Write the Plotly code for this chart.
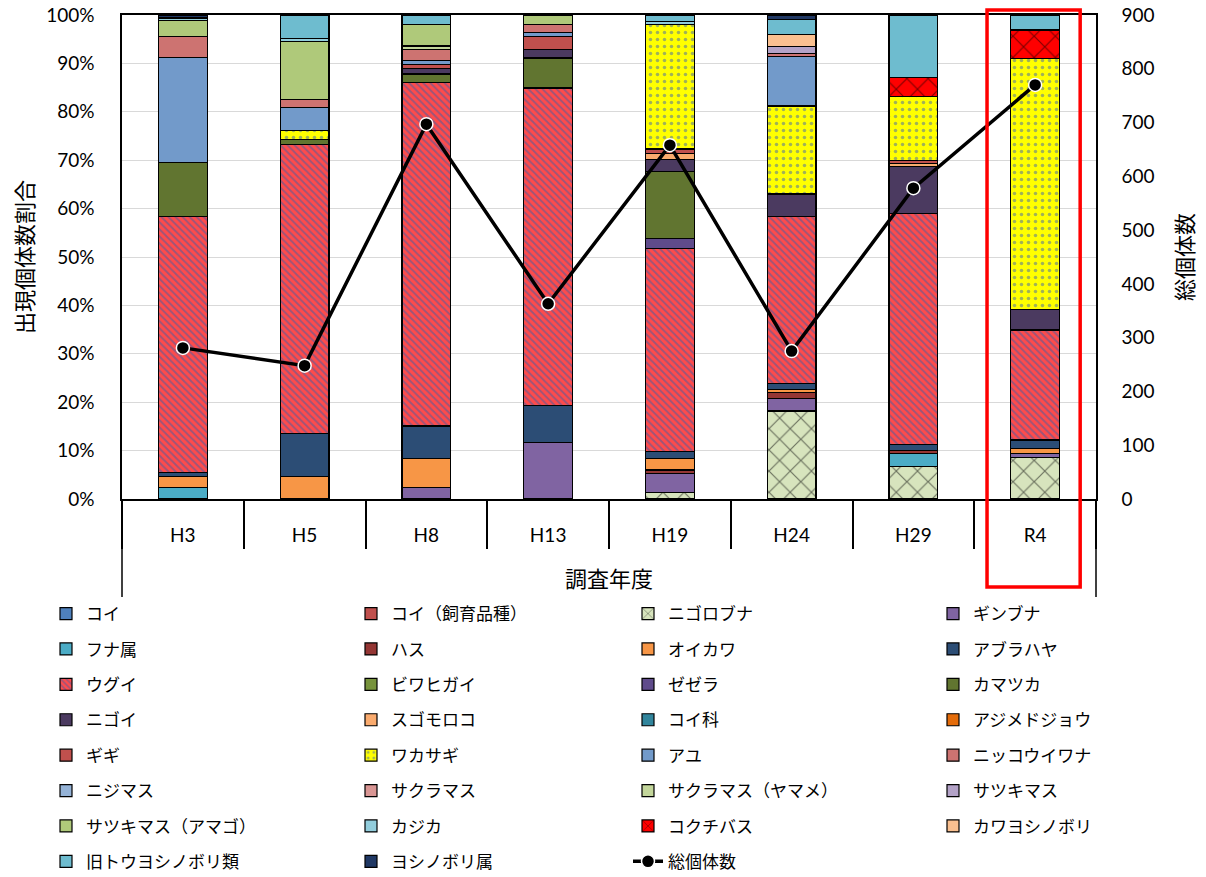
import plotly.graph_objects as go

years = ["H3", "H5", "H8", "H13", "H19", "H24", "H29", "R4"]

species = [
    "コイ", "コイ（飼育品種）", "ニゴロブナ", "ギンブナ",
    "フナ属", "ハス", "オイカワ", "アブラハヤ",
    "ウグイ", "ビワヒガイ", "ゼゼラ", "カマツカ",
    "ニゴイ", "スゴモロコ", "コイ科", "アジメドジョウ",
    "ギギ", "ワカサギ", "アユ", "ニッコウイワナ",
    "ニジマス", "サクラマス", "サクラマス（ヤマメ）", "サツキマス",
    "サツキマス（アマゴ）", "カジカ", "コクチバス", "カワヨシノボリ",
    "旧トウヨシノボリ類", "ヨシノボリ属",
]

# share of individuals (%) per survey year
koi = [0, 0, 0, 0, 0, 0, 0, 0]
koi_shiiku = [0, 0, 0, 0, 0, 0, 0, 0]
nigorobuna = [0, 0, 0, 0, 1.3, 18.2, 6.7, 8.6]
ginbuna = [0, 0, 2.4, 11.6, 3.9, 2.6, 0, 0.8]
funa_zoku = [2.3, 0, 0, 0, 0, 0, 2.7, 0]
hasu = [0, 0, 0, 0, 0.8, 1.2, 0.7, 0]
oikawa = [2.4, 4.6, 6.0, 0, 2.4, 0.7, 0, 1.0]
aburahaya = [0.7, 9.0, 6.7, 7.8, 1.4, 1.2, 1.1, 1.8]
ugui = [53.0, 59.7, 70.9, 65.5, 42.0, 34.4, 47.8, 22.7]
biwahigai = [0, 0, 0, 0, 0, 0, 0, 0]
zezera = [0, 0, 0, 0, 2.1, 0, 0, 0]
kamatsuka = [11.1, 1.0, 1.8, 6.2, 13.7, 0, 0, 0]
nigoi = [0, 0, 1.1, 1.8, 2.6, 4.7, 9.7, 4.3]
sugomoroko = [0, 0, 0, 0, 1.2, 0, 0.6, 0]
koi_ka = [0, 0, 0, 0, 0, 0, 0, 0]
ajimedojou = [0, 0, 0, 0, 0, 0, 0, 0]
gigi = [0, 0, 0.8, 2.6, 0.9, 0, 0.7, 0]
wakasagi = [0, 1.8, 0, 0, 25.8, 18.2, 13.1, 51.8]
ayu = [21.7, 4.8, 0.9, 0.9, 0, 10.2, 0, 0]
nikkouiwana = [4.3, 1.7, 2.2, 1.7, 0, 0.6, 0, 0]
nijimasu = [0, 0, 0, 0, 0, 0, 0, 0]
sakuramasu = [0, 0, 0, 0, 0, 0, 0, 0]
yamame = [0, 0, 0.8, 0, 0, 0, 0, 0]
satsukimasu = [0, 0, 0, 0, 0, 1.5, 0, 0]
amago = [3.3, 11.9, 4.5, 1.9, 0, 0, 0, 0]
kajika = [0.6, 0.6, 0, 0, 0.5, 0, 0, 0]
kokuchibasu = [0, 0, 0, 0, 0, 0, 4.0, 5.9]
kawayoshinobori = [0, 0, 0, 0, 0, 2.4, 0, 0]
kyu_touyoshinobori = [0, 4.9, 1.9, 0, 1.4, 3.2, 12.9, 3.1]
yoshinobori_zoku = [0.6, 0, 0, 0, 0, 0.9, 0, 0]

# total individuals
total_count = [281, 248, 697, 363, 658, 275, 578, 770]

series_values = [
    koi, koi_shiiku, nigorobuna, ginbuna,
    funa_zoku, hasu, oikawa, aburahaya,
    ugui, biwahigai, zezera, kamatsuka,
    nigoi, sugomoroko, koi_ka, ajimedojou,
    gigi, wakasagi, ayu, nikkouiwana,
    nijimasu, sakuramasu, yamame, satsukimasu,
    amago, kajika, kokuchibasu, kawayoshinobori,
    kyu_touyoshinobori, yoshinobori_zoku,
]

colors = [
    "#4F81BD", "#C0504D", "#D7E4BD", "#8064A2",
    "#4BACC6", "#943634", "#F79646", "#2C4D75",
    "#FF4B4B", "#77933C", "#5F4B8B", "#617530",
    "#4B3A60", "#FAAB6E", "#31859C", "#E46C0A",
    "#C0504D", "#FFFF00", "#729ACA", "#CD7371",
    "#95B3D7", "#D99694", "#C3D69B", "#B3A2C7",
    "#AFC97A", "#92CDDC", "#FF0000", "#FAC090",
    "#6EBCCF", "#203864",
]

patterns = {
    "ニゴロブナ": dict(shape="x", fgcolor="#000000", bgcolor="#D7E4BD", size=15, solidity=0.15),
    "ウグイ": dict(shape="\\", fgcolor="#3A5FA8", bgcolor="#FF4B4B", size=5, solidity=0.4),
    "ワカサギ": dict(shape=".", fgcolor="#3F64B0", bgcolor="#FFFF00", size=7, solidity=0.2),
    "コクチバス": dict(shape="x", fgcolor="#000000", bgcolor="#FF0000", size=15, solidity=0.15),
}

FONT = "Lato, 'Noto Sans CJK JP', sans-serif"
JFONT = "'Noto Sans CJK JP', sans-serif"

fig = go.Figure()


def legend_id(i):
    row, col = divmod(i, 4)
    idx = row * 2 + col // 2
    return "legend" if idx == 0 else f"legend{idx + 1}"


for i, (name, vals, col) in enumerate(zip(species, series_values, colors)):
    marker = dict(color=col, line=dict(color="#000000", width=1.2))
    if name in patterns:
        marker["pattern"] = patterns[name]
    fig.add_trace(go.Bar(
        x=years, y=vals, name=name, marker=marker, width=0.4,
        legend=legend_id(i), yaxis="y",
    ))

fig.add_trace(go.Scatter(
    x=years, y=total_count, name="総個体数", yaxis="y2",
    mode="lines+markers",
    line=dict(color="#000000", width=3.5),
    marker=dict(color="#000000", size=13, line=dict(color="#FFFFFF", width=1.5)),
    legend=legend_id(len(species)),
))

W, H = 1206, 877
row_y0 = 614
row_dy = 35.4
half_x = [46, 628]
legends = {}
for r in range(8):
    for h in range(2):
        idx = r * 2 + h
        key = "legend" if idx == 0 else f"legend{idx + 1}"
        legends[key] = dict(
            orientation="h", xref="container", yref="container",
            x=half_x[h] / W, xanchor="left",
            y=1 - (row_y0 + r * row_dy) / H, yanchor="middle",
            entrywidth=260, entrywidthmode="pixels",
            font=dict(family=JFONT, size=17, color="#000000"),
            bgcolor="rgba(0,0,0,0)", traceorder="normal",
        )

fig.update_layout(
    width=W, height=H, autosize=False,
    margin=dict(l=122, r=110, t=15, b=378, autoexpand=False),
    paper_bgcolor="#FFFFFF", plot_bgcolor="#FFFFFF",
    barmode="stack", bargap=0.6,
    font=dict(family=FONT, color="#000000"),
    xaxis=dict(
        type="category", categoryorder="array", categoryarray=years,
        range=[-0.5, 7.5],
        showline=True, linecolor="#000000", linewidth=1.5, mirror=True,
        ticks="outside", tickson="boundaries", ticklen=48, tickwidth=1.5, tickcolor="#000000",
        ticklabelstandoff=18,
        tickfont=dict(family=FONT, size=19, color="#000000"),
        showgrid=False,
        title=dict(text="調査年度", font=dict(family=JFONT, size=22, color="#000000"), standoff=27),
    ),
    yaxis=dict(
        range=[0, 100], dtick=10, ticksuffix="%",
        showgrid=True, gridcolor="#D9D9D9", gridwidth=1,
        showline=True, linecolor="#000000", linewidth=1.5,
        ticks="", ticklabelstandoff=22,
        tickfont=dict(family=FONT, size=19, color="#000000"),
        zeroline=False,
        title=dict(text="出現個体数割合", font=dict(family=JFONT, size=22, color="#000000"), standoff=6),
    ),
    yaxis2=dict(
        overlaying="y", side="right", range=[0, 900], dtick=100,
        showgrid=False, showline=True, linecolor="#000000", linewidth=1.5,
        ticks="", ticklabelstandoff=20,
        tickfont=dict(family=FONT, size=19, color="#000000"),
        zeroline=False,
        title=dict(text="総個体数", font=dict(family=JFONT, size=22, color="#000000"), standoff=24),
    ),
    **legends,
)

# frame extensions below the plot area and highlight box around R4
fig.add_shape(type="line", xref="paper", yref="paper", x0=0, x1=0, y0=0, y1=-98 / 484,
              line=dict(color="#000000", width=1.5))
fig.add_shape(type="line", xref="paper", yref="paper", x0=1, x1=1, y0=0, y1=-98 / 484,
              line=dict(color="#000000", width=1.5))
fig.add_shape(type="rect", xref="x", yref="paper", x0=6.605, x1=7.37, y0=-0.1818, y1=1.0103,
              line=dict(color="#FF0000", width=3.5), fillcolor="rgba(0,0,0,0)", layer="above")

fig.write_html("out.html")
